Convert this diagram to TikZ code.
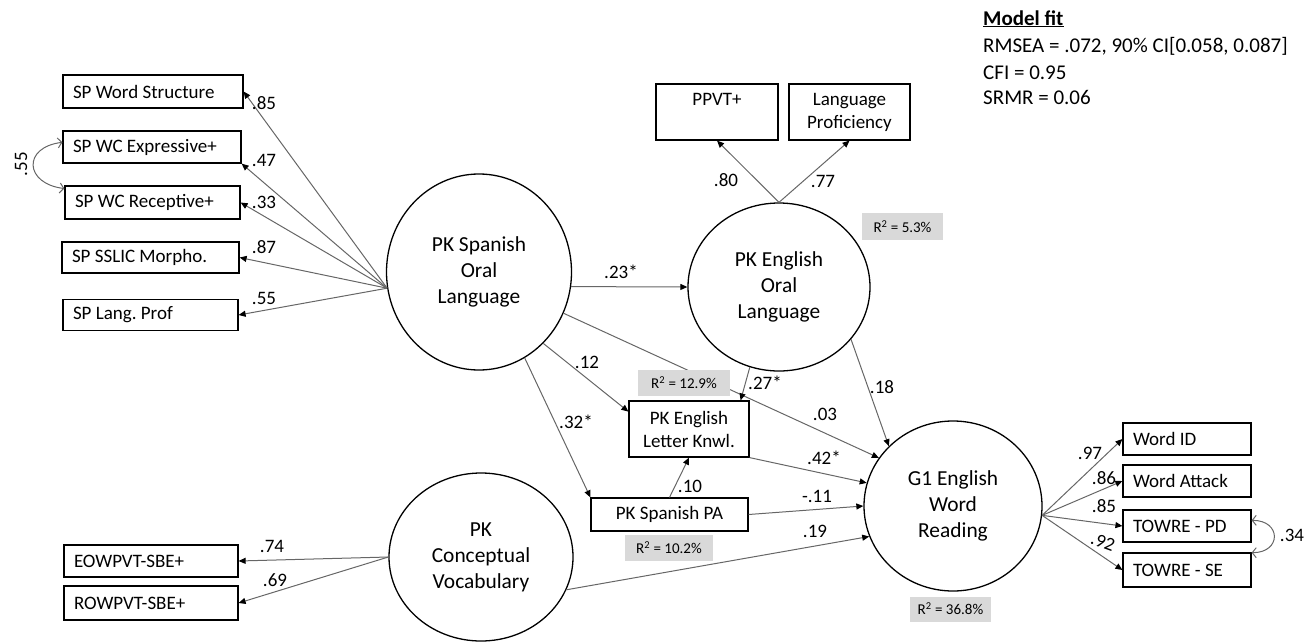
\documentclass[tikz,border=0pt]{standalone}
\usepackage{fontspec}
\setmainfont{Carlito}
\usetikzlibrary{shapes.geometric,arrows.meta}
\frenchspacing
\newcommand{\lfill}[2]{\makebox[#1][l]{#2}}
\begin{document}
\begin{tikzpicture}[x=1pt,y=-1pt,
  lat/.style={draw=black, line width=1.3pt, ellipse, inner sep=0pt, align=center, font=\fontsize{21.4}{26}\selectfont},
  obs/.style={draw=black, line width=1.2pt, inner ysep=0pt, inner xsep=10pt, font=\fontsize{19}{23}\selectfont},
  obsc/.style={draw=black, line width=1.2pt, inner sep=0pt, align=center, font=\fontsize{19}{23}\selectfont},
  conn/.style={draw=gray!80!black, line width=1pt, -{Triangle[length=7pt,width=6pt,color=black]}},
  cov/.style={draw=gray!80!black, line width=1pt, {Straight Barb[length=4pt,width=10pt]}-{Straight Barb[length=4pt,width=10pt]}},
  lbl/.style={inner sep=0pt, font=\fontsize{19}{23}\selectfont},
  rsq/.style={fill=black!15, inner sep=0pt, font=\fontsize{15}{18}\selectfont},
  fit/.style={inner sep=0pt, anchor=base west, font=\fontsize{21}{26}\selectfont}
]
\useasboundingbox (0,0) rectangle (1310,643);

% latent variables
\node[lat, minimum width=185pt, minimum height=196pt] (spo) at (479,272) {PK Spanish\\Oral\\Language};
\node[lat, minimum width=182pt, minimum height=168pt] (eng) at (779,287) {PK English\\Oral\\Language};
\node[lat, minimum width=184pt, minimum height=168pt] (cv) at (481,557) {PK\\Conceptual\\Vocabulary};
\node[lat, minimum width=178pt, minimum height=170pt] (g1) at (953,506) {G1 English\\Word\\Reading};

% observed (left)
\node[obs, minimum height=33pt] (ws) at (153,91.5) {\lfill{160pt}{SP Word Structure}};
\node[obs, minimum height=32pt] (ex) at (152,147) {\lfill{158pt}{SP WC Expressive+}};
\node[obs, minimum height=33pt] (rc) at (152.5,202.5) {\lfill{155pt}{SP WC Receptive+}};
\node[obs, minimum height=31pt] (ss) at (150.5,257.5) {\lfill{157pt}{SP SSLIC Morpho.}};
\node[obs, minimum height=31pt] (lpf) at (150.5,315) {\lfill{155pt}{SP Lang. Prof}};
\node[obs, minimum height=32pt] (eo) at (151,561) {\lfill{154pt}{EOWPVT-SBE+}};
\node[obs, minimum height=34pt] (ro) at (151,603) {\lfill{154pt}{ROWPVT-SBE+}};

% observed (top)
\node[obsc, minimum width=122pt, minimum height=56pt] (pp) at (717,112) {PPVT+\\\phantom{Proficiency}};
\node[obsc, minimum width=121pt, minimum height=56pt] (lpr) at (849.5,112) {Language\\Proficiency};

% middle boxes
\node[obsc, minimum width=120pt, minimum height=56pt] (lk) at (689,429) {PK English\\Letter Knwl.};
\node[obsc, minimum width=157pt, minimum height=33pt] (pa) at (669.5,514.5) {PK Spanish PA};

% observed (right)
\node[obs, minimum height=32pt] (wid) at (1187,439) {\lfill{108pt}{Word ID}};
\node[obs, minimum height=32pt] (wa) at (1187,481) {\lfill{108pt}{Word Attack}};
\node[obs, minimum height=32pt] (pd) at (1187,526) {\lfill{108pt}{TOWRE - PD}};
\node[obs, minimum height=34pt] (se) at (1187,570) {\lfill{108pt}{TOWRE - SE}};

% loadings
\draw[conn] (spo.190) -- (ws.east);
\draw[conn] (spo.190) -- (ex.south east);
\draw[conn] (spo.190) -- (rc.east);
\draw[conn] (spo.190) -- (ss.east);
\draw[conn] (spo.190) -- (lpf.east);
\draw[conn] (eng.north) -- (pp.south);
\draw[conn] (eng.north) -- (lpr.south);
\draw[conn] (cv.west) -- (eo.east);
\draw[conn] (cv.west) -- (ro.east);
\draw[conn] (g1.-6) -- (wid.west);
\draw[conn] (g1.-6) -- (wa.west);
\draw[conn] (g1.-6) -- (pd.west);
\draw[conn] (g1.-6) -- (se.west);

% structural paths
\draw[conn] (spo.-9) -- (eng.west);
\draw[conn] (spo.-48) -- (lk.164);
\draw[conn] (spo.-62) -- (pa.north west);
\draw[conn] (spo.-26) -- (g1.147);
\draw[conn] (eng.250) -- (lk.29);
\draw[conn] (eng.-36.5) -- (g1.137);
\draw[conn] (lk.south east) -- (g1.165);
\draw[conn] (pa.north) -- (lk.south);
\draw[conn] (pa.east) -- (g1.180);
\draw[conn] (cv.-21) -- (g1.200);

% covariances
\draw[cov] (ex.177) .. controls +(-40,5) and +(-40,-5) .. (rc.171);
\draw[cov] (pd.5) .. controls +(30,0) and +(30,0) .. (se.15);

% labels
\node[lbl] (l1) at (264,103) {.85};
\node[lbl] (l2) at (264,160) {.47};
\node[lbl] (l3) at (264,202) {.33};
\node[lbl] (l4) at (264,247) {.87};
\node[lbl] (l5) at (264,298) {.55};
\node[lbl, rotate=90] (l6) at (21,164) {.55};
\node[lbl] (l7) at (726,180) {.80};
\node[lbl] (l8) at (823,181) {.77};
\node[lbl] (l9) at (621,272) {.23*};
\node[lbl] (l10) at (587,362) {.12};
\node[lbl] (l11) at (576,422) {.32*};
\node[lbl] (l12) at (765,383) {.27*};
\node[lbl] (l13) at (882,387) {.18};
\node[lbl] (l14) at (825,414) {.03};
\node[lbl] (l15) at (824,458) {.42*};
\node[lbl] (l16) at (690,486) {.10};
\node[lbl] (l17) at (817,496) {-.11};
\node[lbl] (l18) at (815,531) {.19};
\node[lbl] (l19) at (272,546) {.74};
\node[lbl] (l20) at (275,580) {.69};
\node[lbl] (l21) at (1090,453) {.97};
\node[lbl] (l22) at (1104,478) {.86};
\node[lbl] (l23) at (1104,506) {.85};
\node[lbl, rotate=-20] (l24) at (1103,542) {.92};
\node[lbl] (l25) at (1292,535) {.34};

% R squared
\node[rsq, minimum width=81pt, minimum height=27pt] (r1) at (902.5,226.5) {R\textsuperscript{2} = 5.3\%};
\node[rsq, minimum width=92pt, minimum height=26pt] (r2) at (684,383) {R\textsuperscript{2} = 12.9\%};
\node[rsq, minimum width=88pt, minimum height=26pt] (r3) at (669,548) {R\textsuperscript{2} = 10.2\%};
\node[rsq, minimum width=81pt, minimum height=25pt] (r4) at (950.5,609) {R\textsuperscript{2} = 36.8\%};

% model fit
\node[fit] (m1) at (983,25) {\textbf{\underline{Model fit}}};
\node[fit] (m2) at (983,52) {RMSEA = .072, 90\% CI[0.058, 0.087]};
\node[fit] (m3) at (983,79) {CFI = 0.95};
\node[fit] (m4) at (983,104) {SRMR = 0.06};
\end{tikzpicture}
\end{document}
